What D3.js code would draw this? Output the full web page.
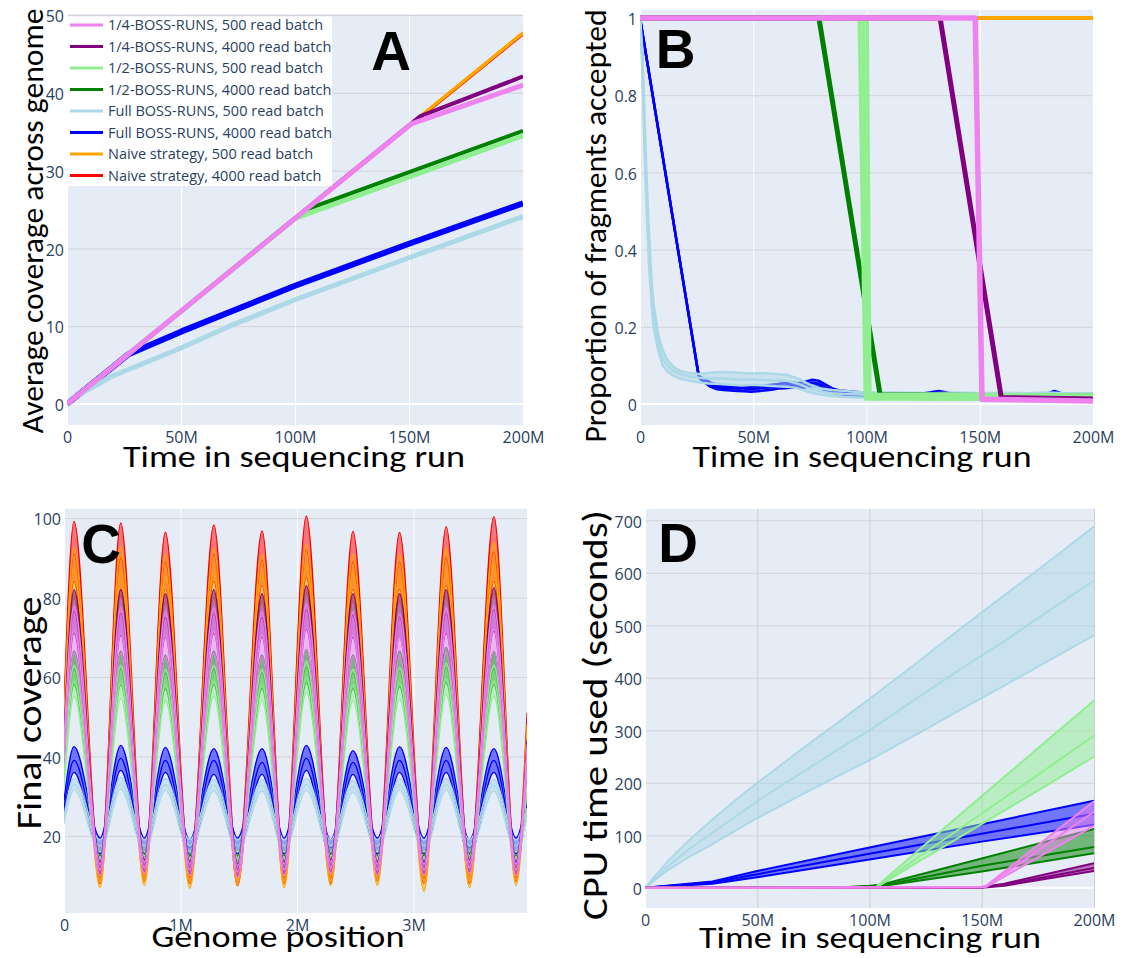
<!DOCTYPE html>
<html><head><meta charset="utf-8">
<script src="https://cdn.jsdelivr.net/npm/d3@7"></script>
<style>body{margin:0;background:#fff}svg{display:block}</style>
</head><body>
<svg id="fig" width="1134" height="958"></svg>
<script>
// ---------- shared ----------
const seriesNames = ["1/4-BOSS-RUNS, 500 read batch","1/4-BOSS-RUNS, 4000 read batch","1/2-BOSS-RUNS, 500 read batch","1/2-BOSS-RUNS, 4000 read batch","Full BOSS-RUNS, 500 read batch","Full BOSS-RUNS, 4000 read batch","Naive strategy, 500 read batch","Naive strategy, 4000 read batch"];
const seriesColors = ["#EE82EE","#800080","#90EE90","#008000","#ADD8E6","#0000FF","#FFA500","#FF0000"];
const timeTicks = [0,50,100,150,200];
const timeTickLabels = ["0","50M","100M","150M","200M"];

// ---------- Panel A: average coverage ----------
const aYTicks = [0,10,20,30,40,50];
const aQ500X = [0,151,200],            aQ500Y = [0,36.0,41.0];
const aQ4000X = [0,155,200],           aQ4000Y = [0,37.0,42.1];
const aH500X = [0,100,200],            aH500Y = [0,23.85,34.5];
const aH4000X = [0,105,200],           aH4000Y = [0,25.0,35.1];
const aF500X = [0,4,20,50,72,100,150,200], aF500Y = [0,1.0,3.6,7.2,10.1,13.4,18.8,24.1];
const aF4000X = [0,27,50,100,150,200], aF4000Y = [0,6.4,9.3,15.2,20.6,25.8];
const aN500X = [0,200],                aN500Y = [0,47.7];
const aN4000X = [0,200],               aN4000Y = [0,47.6];

// ---------- Panel B: proportion accepted ----------
const bYTicks = [0,0.2,0.4,0.6,0.8,1];
const bYTickLabels = ["0","0.2","0.4","0.6","0.8","1"];
const bQ500X = [0,148,151,200],   bQ500Y = [1,1,0.012,0.008];
const bQ4000X = [0,132.5,159.5,200], bQ4000Y = [1,1,0.017,0.013];
const bH4000X = [0,79,106,200],   bH4000Y = [1,1,0.024,0.02];
const bH500HiX = [0,100.3,101.5,200], bH500Hi = [1,1,0.025,0.023];
const bH500MidX = [0,98.5,100.5,200], bH500Mid = [1,1,0.019,0.018];
const bH500LoX = [0,96.8,99.5,200],   bH500Lo = [1,1,0.013,0.012];
const bN500X = [0,200], bN500Y = [1,1];
const bN4000X = [0,200], bN4000Y = [1,1];
const bF500X = [0,1,2,3,4,5,6,8,10,12,15,18,22,26,30,35,40,45,50,55,60,65,70,75,80,85,90,95,100,110,120,130,140,150,160,170,180,190,200];
const bF500Mid = [1,0.9,0.7,0.53,0.4,0.3,0.23,0.16,0.12,0.1,0.085,0.077,0.072,0.068,0.066,0.067,0.065,0.063,0.064,0.062,0.061,0.06,0.052,0.04,0.032,0.028,0.026,0.025,0.024,0.022,0.021,0.02,0.02,0.019,0.02,0.019,0.02,0.019,0.02];
const bF500Hi = [1,0.92,0.74,0.57,0.44,0.33,0.26,0.18,0.14,0.115,0.095,0.085,0.08,0.078,0.08,0.083,0.082,0.08,0.079,0.08,0.078,0.075,0.065,0.05,0.04,0.036,0.034,0.032,0.03,0.03,0.029,0.028,0.03,0.028,0.029,0.028,0.03,0.028,0.028];
const bF500Lo = [1,0.87,0.66,0.49,0.36,0.27,0.2,0.14,0.1,0.085,0.072,0.065,0.06,0.056,0.053,0.052,0.05,0.048,0.05,0.048,0.046,0.045,0.04,0.03,0.024,0.02,0.018,0.017,0.016,0.014,0.013,0.012,0.012,0.011,0.012,0.011,0.012,0.011,0.012];
const bF4000X = [0,26,28,31,34,37,40,43,46,49,52,55,58,61,64,67,70,73,76,79,82,85,88,92,96,100,105,110,115,120,125,129,132,136,140,150,160,170,176,180,183,186,190,195,200];
const bF4000Mid = [1,0.07,0.062,0.05,0.044,0.042,0.041,0.04,0.04,0.039,0.04,0.042,0.044,0.046,0.048,0.05,0.048,0.05,0.055,0.052,0.042,0.035,0.03,0.028,0.027,0.024,0.021,0.02,0.021,0.02,0.022,0.026,0.028,0.024,0.021,0.02,0.019,0.02,0.021,0.024,0.028,0.023,0.02,0.021,0.022];
const bF4000Hi = [1,0.072,0.066,0.056,0.05,0.047,0.046,0.045,0.046,0.045,0.046,0.048,0.05,0.052,0.055,0.056,0.054,0.058,0.063,0.06,0.05,0.04,0.035,0.033,0.031,0.028,0.025,0.024,0.025,0.024,0.027,0.031,0.034,0.029,0.025,0.024,0.023,0.024,0.025,0.028,0.034,0.028,0.024,0.025,0.027];
const bF4000Lo = [1,0.068,0.058,0.045,0.038,0.036,0.035,0.034,0.033,0.032,0.033,0.035,0.037,0.04,0.041,0.043,0.042,0.043,0.047,0.044,0.034,0.029,0.025,0.023,0.022,0.019,0.016,0.015,0.016,0.015,0.017,0.02,0.022,0.019,0.016,0.015,0.014,0.015,0.016,0.019,0.022,0.018,0.015,0.016,0.017];

// ---------- Panel C: final coverage ----------
const cXTicks = [0,1,2,3];
const cXTickLabels = ["0","1M","2M","3M"];
const cYTicks = [20,40,60,80,100];
const cX = [0,0.086,0.31,0.487,0.69,0.87,1.08,1.286,1.49,1.70,1.89,2.08,2.29,2.48,2.69,2.88,3.09,3.28,3.48,3.69,3.88,3.974];
const cN4000Hi = [53,99.2,11,98.8,11.5,96.5,11,98.3,11.5,96.8,11,100.6,11,96.7,11.5,96.4,11,97.9,11.5,100.4,11,51];
const cN4000Mid = [50,91,9.5,90,10,89,9.5,91,10,89.5,9.5,92,9.5,89,10,89,9.5,90,10,91.5,9.5,47];
const cN4000Lo = [47,84,8,82,8.5,82,8,84,7.4,83,8,85,8,82,8.5,82,8,83,8,84,8.5,43];
const cN500Hi = [50,92.5,10,93,10,91,10,92.5,10.5,91,10,93.5,10,91,10,91,10,92.5,10,94,10.5,48];
const cN500Mid = [47,87,8.5,87,8.5,85.5,8.5,86.5,9,86,8.5,88,8.5,86,8.5,85.5,8.5,86.5,8.5,88,9,45];
const cN500Lo = [43,80,7,80.5,7.5,79,6.8,80,7.5,79,7,81,7.5,79,7.5,79,6,80,7,81,7.5,41];
const cQ4000Hi = [45,82,13.5,82,14,81,13.5,82,13,81,13.5,83,14,81,13.5,81,13.5,82,14,82.5,13.5,44];
const cQ4000Mid = [42,76.5,12,76,12.5,75,12,76,11.5,75,12,77,12.5,75.5,12,75,12,76,12.5,77,12,41];
const cQ4000Lo = [39,71,10.5,70.5,11,70,10.5,71,10,70,10.5,72,11,70,10.5,70,10.5,71,11,71.5,10.5,38];
const cQ500Hi = [44,78,13,77.5,13.5,76.5,13,77.5,12.5,76.5,13,78.5,13.5,76.5,13,76,13,77.5,13.5,78,13,43];
const cQ500Mid = [41,72,11.5,71,12,70.5,11.5,71.5,11,70.5,11.5,72.5,12,70.5,11.5,70,11.5,71.5,12,72,11.5,40];
const cQ500Lo = [38,66,10,66,10.5,65,10,66,9.5,65,10,67,10.5,65,10,65,10,66,10.5,66.5,10,37];
const cH4000Hi = [38,66.5,15,66.5,15.5,65.5,15,66.5,15,65.5,15,67,15.5,65.5,15,66.5,15,67.5,15.5,66.5,15,37];
const cH4000Mid = [36,62,13.5,62,14,61,13.5,62,13.5,61,13.5,62.5,14,61,13.5,61.5,13.5,62.5,14,62,13.5,35];
const cH4000Lo = [34,58,12,58,12.5,57,12,58,12,57,12,58.5,12.5,57,12,57.5,12,58.5,12.5,58,12,33];
const cH500Hi = [36,63,14.5,63,15,62,14.5,63,14.5,62,14.5,64,15,62,14.5,62.5,14.5,63.5,15,63,14.5,35];
const cH500Mid = [34,59,13,58.5,13.5,58,13,59,13,58,13,60,13.5,58,13,58.5,13,59.5,13.5,59,13,33];
const cH500Lo = [32,55,11.5,54.5,12,54,11.5,55,11.5,54,11.5,56,12,54,11.5,54.5,11.5,55.5,12,55,11.5,31];
const cF4000Hi = [29,42.5,19.5,42.8,19.5,42.3,19,42,19.5,42,19.5,42.8,19,41.5,19.5,42.5,19.5,42.3,19,42,19.5,30];
const cF4000Mid = [27,39,17.5,39.5,17.5,39,17,39,17.5,38.5,17.5,39.5,17,38.5,17.5,39,17.5,39,17,39,17.5,28];
const cF4000Lo = [25,36,15.5,36.5,15.5,36,15,35.5,15.5,35.5,15.5,36.5,15,35.5,15.5,36,15.5,36,15,36,15.5,26];
const cF500Hi = [25,34.5,19,34.8,19,34.5,19,34.2,19,34.2,19,34.5,19,34,19,34.5,19,34.5,19,34.2,19,27];
const cF500Mid = [24,33,17.5,33.2,17.5,33,17.5,32.8,17.5,32.8,17.5,33,17.5,32.5,17.5,33,17.5,33,17.5,32.8,17.5,26];
const cF500Lo = [23,31.5,16,31.7,16,31.5,16,31.3,16,31.3,16,31.5,16,31,16,31.5,16,31.5,16,31.3,16,25];

// ---------- Panel D: CPU time ----------
const dYTicks = [0,100,200,300,400,500,600,700];
const dF500X = [0,3,6,10,20,30,40,50,60,70,80,90,100,120,140,160,180,200];
const dF500Hi = [0,15,30,50,92,130,166,200,232,265,296,328,360,425,492,557,622,688];
const dF500Mid = [0,12,24,40,75,105,135,165,193,220,247,274,300,358,415,470,528,585];
const dF500Lo = [0,10,20,33,60,83,108,133,155,178,200,222,243,290,338,385,433,481];
const dF4000X = [0,30,50,100,150,200];
const dF4000Hi = [0,12,32,77,121,166];
const dF4000Mid = [0,10,26,65,103,141];
const dF4000Lo = [0,8,20,54,88,120];
const dH500X = [0,100,103,120,140,160,180,200];
const dH500Hi = [0,0,2,65,138,211,284,357];
const dH500Mid = [0,0,1,53,112,171,230,290];
const dH500Lo = [0,0,1,45,96,147,198,250];
const dH4000X = [0,85,100,105,150,200];
const dH4000Hi = [0,0,4,6,56,112];
const dH4000Mid = [0,0,3,4,42,78];
const dH4000Lo = [0,0,2,3,31,66];
const dQ4000X = [0,150,160,200];
const dQ4000Hi = [0,1,8,47];
const dQ4000Mid = [0,1,6,38];
const dQ4000Lo = [0,0,4,32];
const dQ500X = [0,150,152,200];
const dQ500Hi = [0,2,4,165];
const dQ500Mid = [0,1,3,145];
const dQ500Lo = [0,1,2,118];

// ---------- drawing ----------
const svg = d3.select("#fig");
const TICK_FONT = "'Open Sans', 'Noto Sans', sans-serif";
const TICK_COLOR = "#2a3f5f";
const TITLE_FONT = "Carlito, Calibri, Lato, sans-serif";
const BG = "#E5ECF6";
const GRID_GRAY = "#d2d4d8";

function makePanel(cfg) {
  const g = svg.append("g");
  const x = d3.scaleLinear().domain(cfg.xDomain).range([cfg.x0, cfg.x1]);
  const y = d3.scaleLinear().domain(cfg.yDomain).range([cfg.y1, cfg.y0]);
  const w = cfg.x1 - cfg.x0, h = cfg.y1 - cfg.y0;
  g.append("rect").attr("x", cfg.x0).attr("y", cfg.y0).attr("width", w).attr("height", h).attr("fill", BG);
  const gx = g.append("g").attr("transform", `translate(0,${cfg.y1})`)
    .call(d3.axisBottom(x).tickValues(cfg.xTicks.filter(t => t !== 0)).tickSize(-h).tickFormat(""));
  gx.select(".domain").remove();
  gx.selectAll("line").attr("stroke", cfg.vGrid).attr("stroke-width", 1);
  const gy = g.append("g").attr("transform", `translate(${cfg.x0},0)`)
    .call(d3.axisLeft(y).tickValues(cfg.yTicks.filter(t => t !== 0)).tickSize(-w).tickFormat(""));
  gy.select(".domain").remove();
  gy.selectAll("line").attr("stroke", cfg.hGrid).attr("stroke-width", 1);
  if (cfg.yDomain[0] < 0) g.append("line").attr("x1", cfg.x0).attr("x2", cfg.x1).attr("y1", y(0)).attr("y2", y(0)).attr("stroke", "#fff").attr("stroke-width", 2);
  g.append("line").attr("x1", x(0)).attr("x2", x(0)).attr("y1", cfg.y0).attr("y2", cfg.y1).attr("stroke", "#fff").attr("stroke-width", 2);
  const cid = "clip" + cfg.id;
  svg.append("clipPath").attr("id", cid).append("rect").attr("x", cfg.x0).attr("y", cfg.y0).attr("width", w).attr("height", h);
  const plot = g.append("g").attr("clip-path", `url(#${cid})`);
  const ax = g.append("g").attr("transform", `translate(0,${cfg.y1})`)
    .call(d3.axisBottom(x).tickValues(cfg.xTicks).tickFormat((d, i) => cfg.xLabels[i]).tickSize(0).tickPadding(6.5));
  ax.select(".domain").remove();
  ax.selectAll("text").attr("font-family", TICK_FONT).attr("font-size", 16).attr("fill", TICK_COLOR);
  const ay = g.append("g").attr("transform", `translate(${cfg.x0},0)`)
    .call(d3.axisLeft(y).tickValues(cfg.yTicks).tickFormat((d, i) => cfg.yLabels[i]).tickSize(0).tickPadding(3));
  ay.select(".domain").remove();
  ay.selectAll("text").attr("font-family", TICK_FONT).attr("font-size", 16).attr("fill", TICK_COLOR).attr("dy", "0.42em");
  g.append("text").attr("x", cfg.xt.cx).attr("y", cfg.xt.by).attr("text-anchor", "middle")
    .attr("font-family", TITLE_FONT).attr("font-size", cfg.xt.fs).attr("fill", "#000")
    .attr("textLength", cfg.xt.len).attr("lengthAdjust", "spacingAndGlyphs").text(cfg.xt.text);
  g.append("text").attr("x", cfg.yt.bx).attr("y", cfg.yt.cy).attr("text-anchor", "middle")
    .attr("transform", `rotate(-90 ${cfg.yt.bx} ${cfg.yt.cy})`)
    .attr("font-family", TITLE_FONT).attr("font-size", cfg.yt.fs).attr("fill", "#000")
    .attr("textLength", cfg.yt.len).attr("lengthAdjust", "spacingAndGlyphs").text(cfg.yt.text);
  return { g, x, y, plot, cfg };
}

function drawLine(p, xs, ys, color, width, curve) {
  const line = d3.line().x(d => p.x(d[0])).y(d => p.y(d[1])).curve(curve || d3.curveLinear);
  p.plot.append("path").attr("d", line(xs.map((v, i) => [v, ys[i]])))
    .attr("fill", "none").attr("stroke", color).attr("stroke-width", width)
    .attr("stroke-linejoin", "round");
}
function drawBand(p, xsHi, hi, xsLo, lo, color, op, curve) {
  const c = curve || d3.curveLinear;
  const area = d3.area().x(d => p.x(d[0])).y0(d => p.y(d[1])).y1(d => p.y(d[2])).curve(c);
  if (xsHi === xsLo) {
    p.plot.append("path").attr("d", area(xsHi.map((v, i) => [v, lo[i], hi[i]])))
      .attr("fill", color).attr("fill-opacity", op).attr("stroke", "none");
  } else {
    const top = xsHi.map((v, i) => [p.x(v), p.y(hi[i])]);
    const bot = xsLo.map((v, i) => [p.x(v), p.y(lo[i])]).reverse();
    p.plot.append("path").attr("d", d3.line()(top.concat(bot)) + "Z")
      .attr("fill", color).attr("fill-opacity", op).attr("stroke", "none");
  }
}
function drawLetter(x, y, t) {
  svg.append("text").attr("x", x).attr("y", y).attr("text-anchor", "middle")
    .attr("font-family", "'Liberation Sans', Arial, sans-serif").attr("font-weight", "bold")
    .attr("font-size", 55).attr("fill", "#000").text(t);
}

// ----- Panel A -----
const pA = makePanel({
  id: "A", x0: 67, x1: 523, y0: 14, y1: 425, xDomain: [0, 200], yDomain: [-2.70, 50.13],
  xTicks: timeTicks, xLabels: timeTickLabels, yTicks: aYTicks, yLabels: aYTicks.map(String),
  vGrid: "#ffffff", hGrid: GRID_GRAY,
  xt: { text: "Time in sequencing run", cx: 294, by: 467, fs: 30, len: 342 },
  yt: { text: "Average coverage across genome", bx: 43, cy: 221, fs: 30, len: 425 }
});
const aSeries = [
  [aQ500X, aQ500Y, 5], [aQ4000X, aQ4000Y, 4], [aH500X, aH500Y, 5], [aH4000X, aH4000Y, 4],
  [aF500X, aF500Y, 5], [aF4000X, aF4000Y, 6], [aN500X, aN500Y, 3.5], [aN4000X, aN4000Y, 3.5]
];
for (let i = aSeries.length - 1; i >= 0; i--) drawLine(pA, aSeries[i][0], aSeries[i][1], seriesColors[i], aSeries[i][2]);

const leg = svg.append("g");
leg.append("rect").attr("x", 68).attr("y", 16.5).attr("width", 264).attr("height", 169.5).attr("fill", "#fff");
seriesNames.forEach((n, i) => {
  const cy = 25 + i * 21.5;
  leg.append("line").attr("x1", 70).attr("x2", 103).attr("y1", cy).attr("y2", cy)
    .attr("stroke", seriesColors[i]).attr("stroke-width", 3);
  leg.append("text").attr("x", 108).attr("y", cy + 5.2).attr("font-family", TICK_FONT)
    .attr("font-size", 14.5).attr("fill", TICK_COLOR).text(n);
});
drawLetter(391, 70, "A");

// ----- Panel B -----
const pB = makePanel({
  id: "B", x0: 640, x1: 1093, y0: 10, y1: 425, xDomain: [0, 200], yDomain: [-0.0544, 1.0207],
  xTicks: timeTicks, xLabels: timeTickLabels, yTicks: bYTicks, yLabels: bYTickLabels,
  vGrid: "#ffffff", hGrid: GRID_GRAY,
  xt: { text: "Time in sequencing run", cx: 862, by: 467, fs: 30, len: 339 },
  yt: { text: "Proportion of fragments accepted", bx: 606, cy: 226, fs: 30, len: 433 }
});
drawLine(pB, bN4000X, bN4000Y, seriesColors[7], 4);
drawLine(pB, bN500X, bN500Y, seriesColors[6], 4);
drawBand(pB, bF4000X, bF4000Hi, bF4000X, bF4000Lo, seriesColors[5], 0.5);
[bF4000Hi, bF4000Mid, bF4000Lo].forEach(a => drawLine(pB, bF4000X, a, seriesColors[5], 2.5));
drawBand(pB, bF500X, bF500Hi, bF500X, bF500Lo, seriesColors[4], 0.5);
[bF500Hi, bF500Mid, bF500Lo].forEach(a => drawLine(pB, bF500X, a, seriesColors[4], 2.5));
drawLine(pB, bH4000X, bH4000Y, seriesColors[3], 5);
drawBand(pB, bH500HiX, bH500Hi, bH500LoX, bH500Lo, seriesColors[2], 0.5);
drawLine(pB, bH500HiX, bH500Hi, seriesColors[2], 3.5);
drawLine(pB, bH500MidX, bH500Mid, seriesColors[2], 3.5);
drawLine(pB, bH500LoX, bH500Lo, seriesColors[2], 3.5);
drawLine(pB, bQ4000X, bQ4000Y, seriesColors[1], 5);
drawLine(pB, bQ500X, bQ500Y, seriesColors[0], 5.5);
drawLetter(675.5, 68, "B");

// ----- Panel C -----
const pC = makePanel({
  id: "C", x0: 64, x1: 527, y0: 509, y1: 913, xDomain: [0, 3.974], yDomain: [0.6, 102.3],
  xTicks: cXTicks, xLabels: cXTickLabels, yTicks: cYTicks, yLabels: cYTicks.map(String),
  vGrid: "#ffffff", hGrid: GRID_GRAY,
  xt: { text: "Genome position", cx: 278, by: 947, fs: 30, len: 253 },
  yt: { text: "Final coverage", bx: 41, cy: 713, fs: 34, len: 233 }
});
const cSeries = [
  [cQ500Hi, cQ500Mid, cQ500Lo], [cQ4000Hi, cQ4000Mid, cQ4000Lo],
  [cH500Hi, cH500Mid, cH500Lo], [cH4000Hi, cH4000Mid, cH4000Lo],
  [cF500Hi, cF500Mid, cF500Lo], [cF4000Hi, cF4000Mid, cF4000Lo],
  [cN500Hi, cN500Mid, cN500Lo], [cN4000Hi, cN4000Mid, cN4000Lo]
];
for (let i = cSeries.length - 1; i >= 0; i--) {
  const s = cSeries[i];
  drawBand(pC, cX, s[0], cX, s[2], seriesColors[i], 0.5, d3.curveMonotoneX);
  s.forEach(a => drawLine(pC, cX, a, seriesColors[i], 1.2, d3.curveMonotoneX));
}
drawLetter(101, 563, "C");

// ----- Panel D -----
const pD = makePanel({
  id: "D", x0: 645, x1: 1094, y0: 509, y1: 908, xDomain: [0, 200], yDomain: [-38.4, 721.5],
  xTicks: timeTicks, xLabels: timeTickLabels, yTicks: dYTicks, yLabels: dYTicks.map(String),
  vGrid: "#cfcfcf", hGrid: GRID_GRAY,
  xt: { text: "Time in sequencing run", cx: 870, by: 948, fs: 30, len: 342 },
  yt: { text: "CPU time used (seconds)", bx: 607, cy: 715, fs: 35, len: 410 }
});
const dSeries = [
  [dQ500X, dQ500Hi, dQ500Mid, dQ500Lo], [dQ4000X, dQ4000Hi, dQ4000Mid, dQ4000Lo],
  [dH500X, dH500Hi, dH500Mid, dH500Lo], [dH4000X, dH4000Hi, dH4000Mid, dH4000Lo],
  [dF500X, dF500Hi, dF500Mid, dF500Lo], [dF4000X, dF4000Hi, dF4000Mid, dF4000Lo]
];
for (let i = dSeries.length - 1; i >= 0; i--) {
  const s = dSeries[i];
  drawBand(pD, s[0], s[1], s[0], s[3], seriesColors[i], 0.5);
  [s[1], s[2], s[3]].forEach(a => drawLine(pD, s[0], a, seriesColors[i], 2));
}
drawLetter(678, 562, "D");
</script></body></html>
